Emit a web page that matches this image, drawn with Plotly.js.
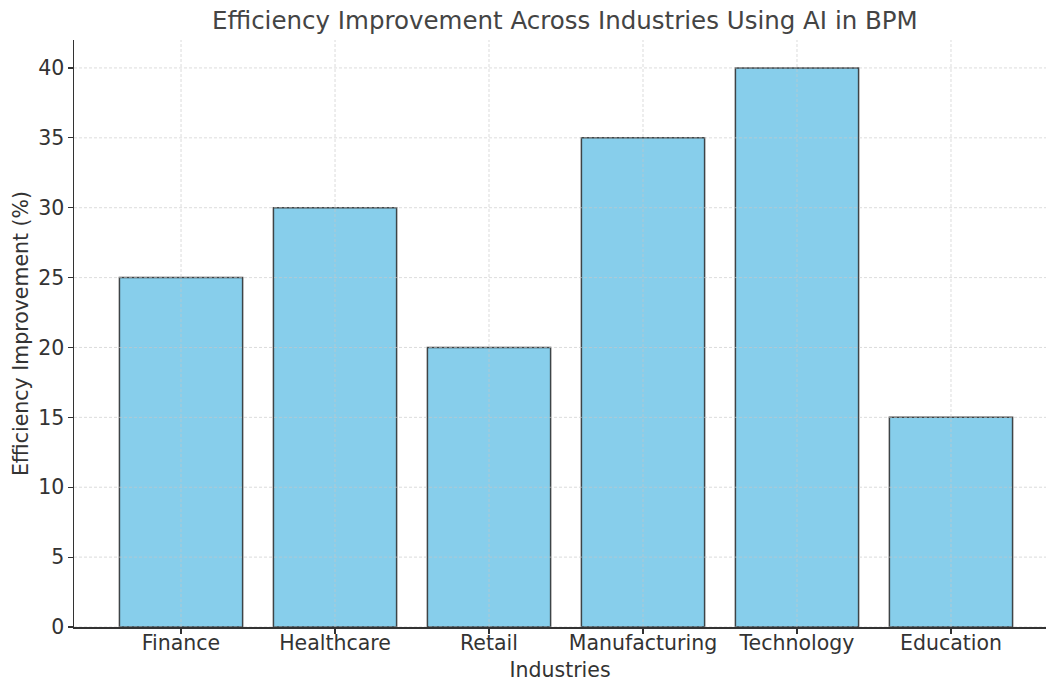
<!DOCTYPE html>
<html>
<head>
<meta charset="utf-8">
<script src="https://cdn.plot.ly/plotly-3.0.1.min.js"></script>
<style>html,body{margin:0;padding:0;background:#fff;}#chart{width:1046px;height:682px;}</style>
</head>
<body>
<div id="chart"></div>
<script>
const industries = ["Finance", "Healthcare", "Retail", "Manufacturing", "Technology", "Education"];
const efficiency = [25, 30, 20, 35, 40, 15];
const yTicks = [0, 5, 10, 15, 20, 25, 30, 35, 40];

const gridColor = "rgba(200,200,200,0.8)";
const shapes = [];
yTicks.forEach(v => shapes.push({type: "line", xref: "paper", x0: 0, x1: 1, yref: "y", y0: v, y1: v,
  line: {color: gridColor, width: 0.8, dash: "3px,2px"}, layer: "above"}));
industries.forEach(c => shapes.push({type: "line", xref: "x", x0: c, x1: c, yref: "paper", y0: 0, y1: 1,
  line: {color: gridColor, width: 0.8, dash: "3px,2px"}, layer: "above"}));

const trace = {
  type: "bar",
  x: industries,
  y: efficiency,
  width: 0.8,
  marker: {color: "#87CEEB", line: {color: "rgba(40,40,40,0.85)", width: 1.5}},
  hoverinfo: "x+y"
};

const font = {family: "DejaVu Sans, sans-serif", size: 20.5, color: "#333"};
const layout = {
  width: 1046, height: 682,
  margin: {l: 74, r: 0, t: 40, b: 55},
  paper_bgcolor: "#fff", plot_bgcolor: "#fff",
  font: font,
  showlegend: false,
  title: {text: "Efficiency Improvement Across Industries Using AI in BPM",
    font: {family: "DejaVu Sans, sans-serif", size: 24.5, color: "#444"},
    x: 0.505, xref: "paper", xanchor: "center", y: 0.97, yref: "container", yanchor: "middle"},
  xaxis: {
    type: "category", range: [-0.695, 5.617], showgrid: false, zeroline: false,
    showline: true, linecolor: "#333", linewidth: 1.5,
    ticks: "outside", ticklen: 5, tickcolor: "#333", tickwidth: 1.2,
    tickfont: font, automargin: false, ticklabelstandoff: -8,
    title: {text: "Industries", font: font, standoff: 10}
  },
  yaxis: {
    range: [0, 42], tickvals: yTicks, showgrid: false, zeroline: false,
    showline: true, linecolor: "#333", linewidth: 1.5,
    ticks: "outside", ticklen: 5, tickcolor: "#333", tickwidth: 1.2,
    tickfont: font, automargin: false, ticklabelstandoff: -1,
    title: {text: "Efficiency Improvement (%)", font: font, standoff: 4}
  },
  shapes: shapes
};

Plotly.newPlot("chart", [trace], layout, {displayModeBar: false, staticPlot: true});
</script>
</body>
</html>
